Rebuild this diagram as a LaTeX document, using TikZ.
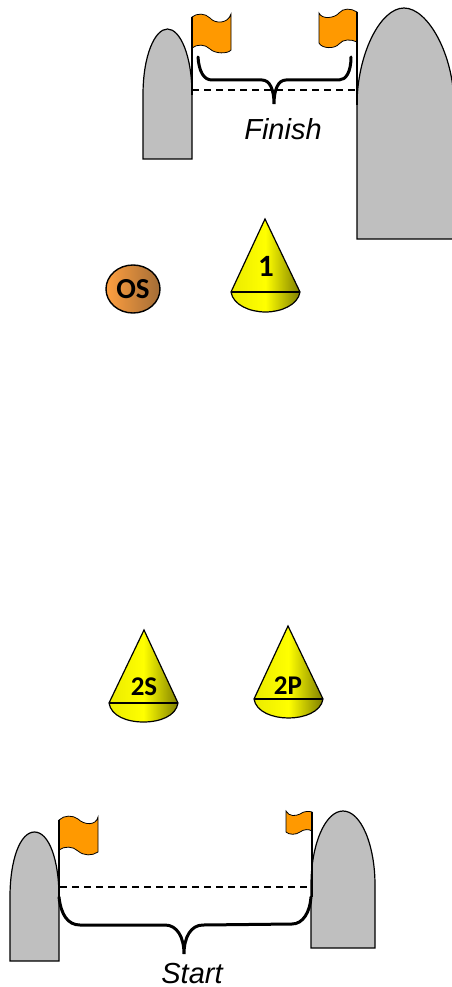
\documentclass[tikz,border=0pt]{standalone}
\usepackage{fontspec}
\usetikzlibrary{shapes.geometric}
\setmainfont{Liberation Sans}
\newfontfamily\markfont{Carlito}
\begin{document}
\begin{tikzpicture}[x=1pt, y=-1pt,
  island/.style={draw=black, fill=gray!50, line width=1.2pt},
  flagcloth/.style={draw=black, fill=orange!80!yellow, line width=0.8pt},
  pole/.style={draw=black, line width=1.2pt},
  gate/.style={draw=black, line width=1.2pt, dash pattern=on 7pt off 5pt},
  bracket/.style={draw=black, line width=3pt, line cap=round},
  cone/.style={draw=black, line width=1.2pt, left color=yellow!92!black, right color=yellow!50!black, middle color=yellow},
  ball/.style={draw=black, line width=1.4pt, ellipse, left color=orange!75!white, right color=brown!85!black},
  marklabel/.style={font=\markfont\bfseries\fontsize{27}{28}\selectfont, inner sep=0pt},
  gatelabel/.style={font=\itshape\fontsize{29}{30}\selectfont, inner sep=0pt}]
\useasboundingbox (0,0) rectangle (452,987);
\draw[island] (143,159) -- (143,95) .. controls (143,55) and (155,29) .. (167.5,29) .. controls (180,29) and (192,55) .. (192,95) -- (192,159) -- cycle;
\draw[island] (357,239) -- (357,105) .. controls (357,55) and (380,8) .. (404,8) .. controls (428,8) and (454,55) .. (454,105) -- (454,239) -- cycle;
\draw[flagcloth] (192,17) .. controls (197,13) and (205,13) .. (210,18) .. controls (215,24) and (228,24) .. (231,14) -- (231,50) .. controls (228,54) and (215,54) .. (210,49) .. controls (205,44) and (197,44) .. (192,48) -- cycle;
\draw[flagcloth] (319,13) .. controls (322,20) and (335,18) .. (339,13) .. controls (343,8) and (351,8) .. (357,12) -- (357,42) .. controls (351,39) and (343,39) .. (339,44) .. controls (335,49) and (322,49) .. (319,43) -- cycle;
\draw[pole] (192,17) -- (192,95);
\draw[pole] (357,12) -- (357,105);
\draw[gate] (192,90) -- (357,90);
\draw[bracket] (198,57) .. controls (199,72) and (204,80) .. (212,80) -- (262,80) .. controls (270,80) and (274,90) .. (274,104) .. controls (274,90) and (278,80) .. (286,80) -- (339,80) .. controls (346,80) and (351,72) .. (351,57);
\node[gatelabel] (finish) at (283,129) {Finish};
\draw[cone] (265,219) -- (300,292) .. controls (298,305) and (281,312) .. (265.5,312) .. controls (250,312) and (233,305) .. (231,292) -- cycle;
\draw[line width=1.2pt] (231,292) -- (300,292);
\node[marklabel, font=\markfont\bfseries\fontsize{31}{32}\selectfont] (one) at (266,266) {1};
\node[ball, minimum width=54pt, minimum height=48pt, inner sep=0pt] (os) at (133,289) {};
\node[marklabel, font=\markfont\bfseries\fontsize{29}{30}\selectfont] (oslabel) at (os.center) {OS};
\draw[cone] (144,630) -- (178,703) .. controls (176,716) and (160,722) .. (143.5,722) .. controls (127,722) and (111,716) .. (109,703) -- cycle;
\draw[line width=1.2pt] (109,703) -- (178,703);
\node[marklabel] (twos) at (144,687) {2S};
\draw[cone] (288,626) -- (323,699) .. controls (321,712) and (304,718) .. (288.5,718) .. controls (273,718) and (256,712) .. (254,699) -- cycle;
\draw[line width=1.2pt] (254,699) -- (323,699);
\node[marklabel] (twop) at (288,686) {2P};
\draw[island] (10,961) -- (10,897) .. controls (10,860) and (20,832) .. (34.5,832) .. controls (49,832) and (59,860) .. (59,897) -- (59,961) -- cycle;
\draw[island] (311,948) -- (311,885) .. controls (311,845) and (325,811) .. (343,811) .. controls (361,811) and (375,845) .. (375,885) -- (375,948) -- cycle;
\draw[flagcloth] (59,820) .. controls (64,815) and (73,815) .. (78,819) .. controls (84,825) and (96,826) .. (98,817) -- (98,852) .. controls (92,856) and (84,856) .. (78,851) .. controls (73,846) and (64,846) .. (59,850) -- cycle;
\draw[flagcloth] (286,811) .. controls (289,817) and (296,816) .. (300,814) .. controls (304,811) and (309,811) .. (312,812) -- (312,831) .. controls (309,829) and (304,829) .. (300,832) .. controls (296,835) and (289,835) .. (286,832) -- cycle;
\draw[pole] (59,820) -- (59,897);
\draw[pole] (312,812) -- (312,897);
\draw[gate] (60,887) -- (311,887);
\draw[bracket] (59,897) .. controls (61,915) and (68,925) .. (80,925) -- (165,925) .. controls (177,925) and (184,937) .. (184,954) .. controls (184,937) and (191,925) .. (203,925) -- (292,924) .. controls (303,924) and (310,912) .. (311,897);
\node[gatelabel] (start) at (192,974) {Start};
\end{tikzpicture}
\end{document}
